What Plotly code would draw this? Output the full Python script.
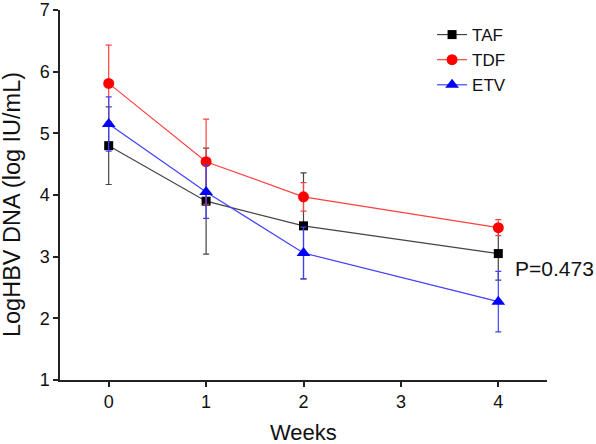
import plotly.graph_objects as go

weeks = [0, 1, 2, 4]
taf_mean = [4.80, 3.90, 3.50, 3.05]
taf_err = [0.63, 0.86, 0.86, 0.43]
tdf_mean = [5.81, 4.54, 3.97, 3.47]
tdf_err = [0.62, 0.69, 0.23, 0.13]
etv_mean = [5.15, 4.05, 3.06, 2.27]
etv_err = [0.44, 0.43, 0.42, 0.49]

series = [
    ("TAF", taf_mean, taf_err, "#000000", "#444444", "square", 9),
    ("TDF", tdf_mean, tdf_err, "#ff0000", "#ff4040", "circle", 11),
    ("ETV", etv_mean, etv_err, "#0000ff", "#4040ff", "triangle-up", 12),
]

fig = go.Figure()
for name, m, e, mc, lc, sym, sz in series:
    fig.add_trace(go.Scatter(
        x=weeks, y=m, name=name, mode="lines+markers",
        line=dict(color=lc, width=1.2),
        marker=dict(symbol=sym, size=sz, color=mc),
        error_y=dict(type="data", array=e, visible=True, color=lc, thickness=1.2, width=3),
    ))

fig.add_annotation(x=4.0, y=3.05, xref="x", yref="y", text="P=0.473", showarrow=False,
                   xanchor="left", xshift=15, yshift=-15, font=dict(size=21, color="#111"))
fig.add_annotation(x=-0.099, y=0.475, xref="paper", yref="paper", text="LogHBV DNA (log IU/mL)",
                   textangle=-90, showarrow=False, xanchor="center", yanchor="middle",
                   font=dict(size=23.5, color="#111"))
fig.add_annotation(x=0.5, y=-0.141, xref="paper", yref="paper", text="Weeks",
                   showarrow=False, xanchor="center", yanchor="middle",
                   font=dict(size=22, color="#111"))

fig.update_layout(
    width=596, height=444,
    margin=dict(l=60, r=49, t=10, b=64),
    plot_bgcolor="white", paper_bgcolor="white",
    font=dict(family="Liberation Sans, Arial, sans-serif", color="#111"),
    showlegend=True,
    legend=dict(x=0.764, y=0.981, xanchor="left", yanchor="top", font=dict(size=17),
                bgcolor="rgba(0,0,0,0)", tracegroupgap=0, itemwidth=30),
    xaxis=dict(range=[-0.5, 4.5], tickvals=[0, 1, 2, 3, 4], showgrid=False, zeroline=False,
               showline=True, linecolor="#222", linewidth=1.5, ticks="outside", ticklen=5,
               tickcolor="#222", tickwidth=1.5, tickfont=dict(size=18), automargin=False),
    yaxis=dict(range=[1, 7], tickvals=[1, 2, 3, 4, 5, 6, 7], showgrid=False, zeroline=False,
               showline=True, linecolor="#222", linewidth=1.5, ticks="outside", ticklen=5,
               tickcolor="#222", tickwidth=1.5, tickfont=dict(size=18), automargin=False),
)

fig.write_html("out.html", config={"displayModeBar": False},
               post_script="document.body.style.margin='0';")
